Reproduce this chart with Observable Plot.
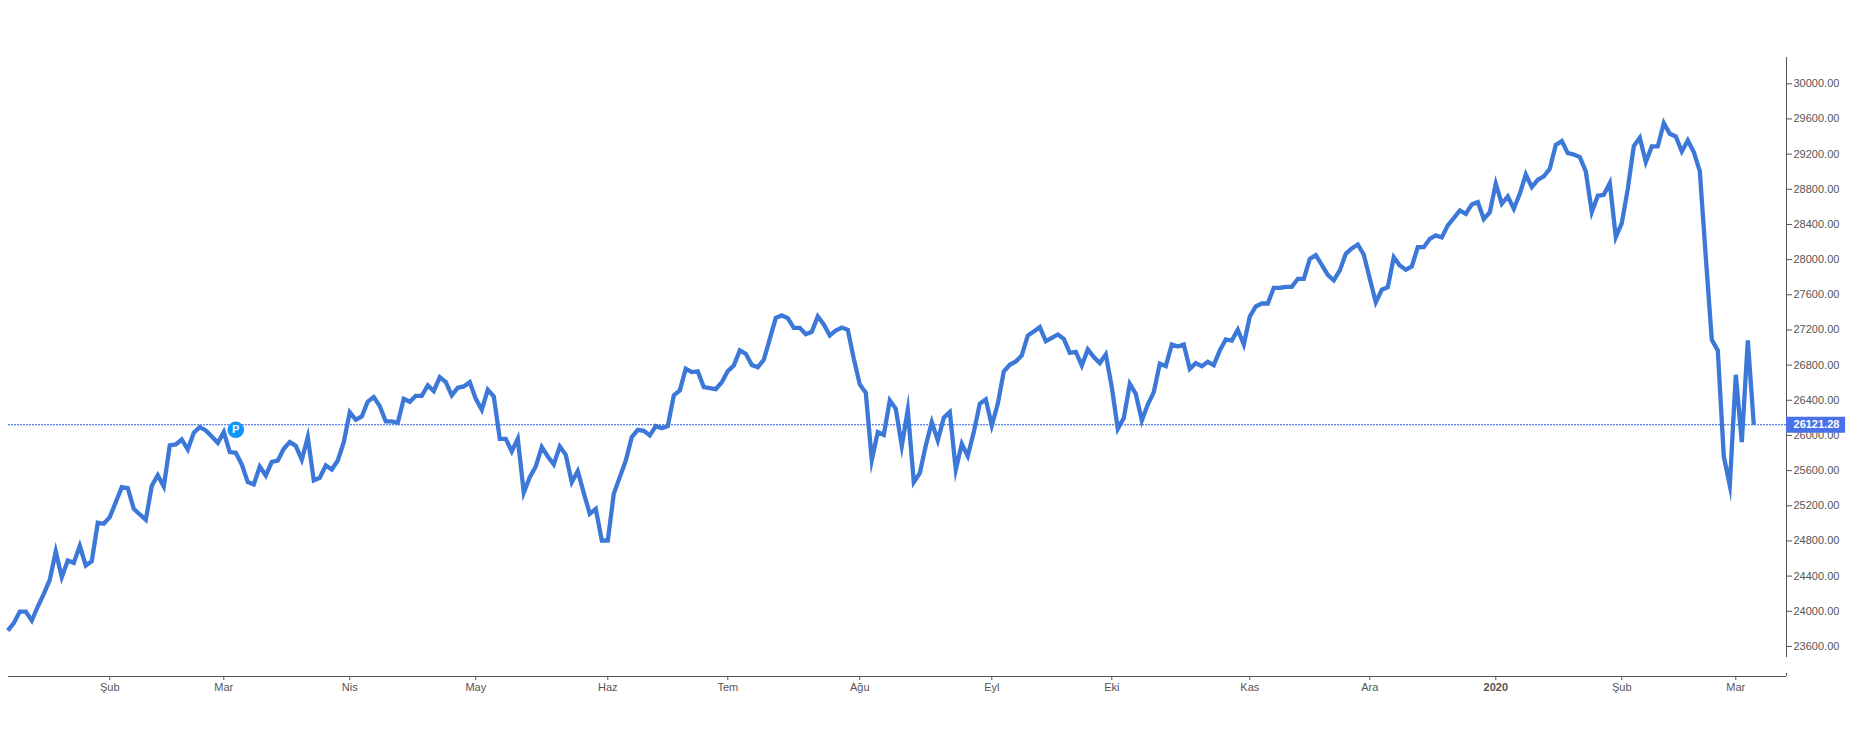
<!DOCTYPE html>
<html>
<head>
<meta charset="utf-8">
<script src="https://cdn.jsdelivr.net/npm/d3@7"></script>
<script src="https://cdn.jsdelivr.net/npm/@observablehq/plot@0.6"></script>
<style>
html,body{margin:0;padding:0;background:#fff;}
svg{display:block;}
</style>
</head>
<body>
<div id="chart"></div>
<script>
const closes = [
23781,23865,23997,23997,23895,24054,24198,24358,24680,24388,
24578,24551,24745,24521,24570,25006,24995,25071,25241,25412,
25401,25165,25101,25040,25427,25548,25419,25886,25897,25954,
25840,26030,26094,26057,25988,25916,26038,25810,25802,25670,
25469,25442,25647,25545,25700,25715,25848,25924,25882,25723,
25981,25488,25518,25658,25613,25715,25924,26265,26178,26216,
26386,26436,26333,26159,26159,26144,26417,26383,26451,26451,
26568,26504,26663,26606,26455,26542,26557,26606,26417,26292,
26519,26443,25962,25962,25818,25962,25350,25526,25647,25867,
25761,25670,25875,25780,25469,25594,25344,25109,25165,24805,
24805,25336,25526,25715,25981,26064,26053,26000,26106,26083,
26106,26455,26512,26758,26720,26728,26549,26538,26527,26606,
26732,26796,26967,26929,26800,26777,26860,27099,27338,27365,
27334,27224,27224,27152,27179,27353,27262,27137,27194,27228,
27202,26872,26580,26485,25720,26038,26007,26398,26303,25880,
26290,25469,25571,25886,26151,25943,26201,26265,25610,25905,
25765,26038,26360,26409,26113,26360,26728,26804,26841,26910,
27137,27183,27232,27073,27111,27149,27099,26940,26951,26796,
26978,26891,26823,26921,26549,26075,26197,26587,26474,26170,
26352,26493,26815,26788,27035,27012,27035,26758,26823,26788,
26838,26800,26967,27092,27080,27202,27035,27353,27467,27501,
27501,27679,27679,27691,27691,27782,27782,28009,28051,27941,
27827,27763,27877,28066,28127,28172,28055,27782,27516,27657,
27687,28028,27934,27884,27922,28142,28142,28237,28275,28252,
28389,28472,28559,28521,28628,28654,28461,28540,28863,28635,
28719,28578,28749,28969,28825,28908,28946,29033,29306,29348,
29211,29196,29166,29003,28540,28726,28737,28870,28256,28415,
28806,29291,29386,29109,29287,29287,29553,29431,29401,29230,
29356,29223,29007,28028,27088,26967,25761,25430,26690,25924,
27080,26121.28
];
const lastValue = 26121.28;
const monthTicks = [17,36,57,78,100,120,142,164,184,207,227,269,288];
const monthLabels = ["Şub","Mar","Nis","May","Haz","Tem","Ağu","Eyl","Eki","Kas","Ara","Şub","Mar"];
const yearTick = [248];
const yearLabel = ["2020"];
const yTicks = [23600,24000,24400,24800,25200,25600,26000,26400,26800,27200,27600,28000,28400,28800,29200,29600,30000];
const flagIndex = [38];
const flagValue = [26064];

const xMin = 0.12, xMax = 296.45, xBadge = 306.3;
const yMin = 23258, yMax = 30299, yAxisEnd = 23474, yEndTick = 23292;
const axisColor = "#555";
const rows = closes.map((v,i)=>({i,v}));

const chart = Plot.plot({
  width: 1852, height: 750,
  marginLeft: 8, marginRight: 66, marginTop: 57, marginBottom: 74,
  style: {fontFamily: "'Liberation Sans', Arial, sans-serif", fontSize: "11px", background: "#fff"},
  x: {domain: [xMin, xMax], axis: null},
  y: {domain: [yMin, yMax], axis: null},
  marks: [
    Plot.ruleX([xMax], {y1: yAxisEnd, y2: yMax, stroke: axisColor, strokeWidth: 1}),
    Plot.ruleX([xMax], {y1: yMin, y2: yEndTick, stroke: axisColor, strokeWidth: 1}),
    Plot.ruleY([yMin], {stroke: axisColor, strokeWidth: 1}),
    Plot.ruleY([lastValue], {x1: xMin, x2: xMax, stroke: "#2a5be0", strokeWidth: 1, strokeDasharray: "2,1"}),
    Plot.line(rows, {x: "i", y: "v", stroke: "#3c78d8", strokeWidth: 4.3,
      strokeLinejoin: "miter", strokeMiterlimit: 10, strokeLinecap: "butt"}),
    Plot.axisY({anchor: "right", ticks: yTicks, tickSize: 5, tickPadding: 2, label: null,
      tickFormat: d => d.toFixed(2), color: axisColor, fontSize: 11}),
    Plot.axisX({anchor: "bottom", ticks: monthTicks, tickSize: 4, tickPadding: 3, label: null,
      tickFormat: d => monthLabels[monthTicks.indexOf(d)], color: axisColor, fontSize: 11}),
    Plot.axisX({anchor: "bottom", ticks: yearTick, tickSize: 4, tickPadding: 3, label: null,
      tickFormat: d => yearLabel[yearTick.indexOf(d)], color: axisColor, fontSize: 11, fontWeight: "bold"}),
    Plot.ruleY([lastValue], {x1: xMax, x2: xBadge, stroke: "#4a72e8", strokeWidth: 16}),
    Plot.text([lastValue], {x: xMax + 1.17, y: d => d, text: d => d.toFixed(2), textAnchor: "start",
      fill: "#fff", fontWeight: "bold", fontSize: 11}),
    Plot.dot(flagIndex, {x: d => d, y: (d,i) => flagValue[i], r: 8, fill: "#0a96fb", stroke: "#0a82e0", strokeWidth: 0.5}),
    Plot.text(flagIndex, {x: d => d, y: (d,i) => flagValue[i], text: () => "P", fill: "#fff", fontWeight: "bold", fontSize: 11})
  ]
});
document.getElementById("chart").appendChild(chart);
</script>
</body>
</html>
